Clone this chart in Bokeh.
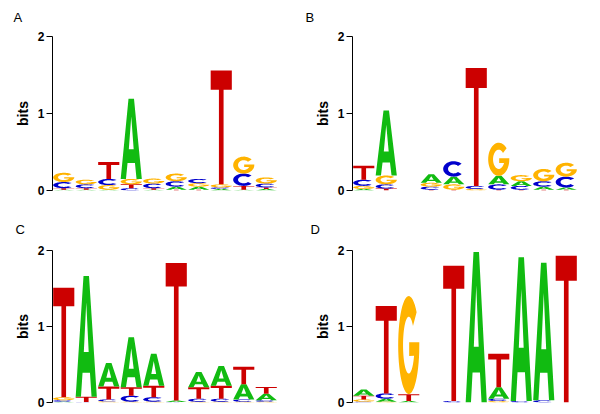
import numpy as np
from bokeh.plotting import figure
from bokeh.layouts import gridplot
from bokeh.models import ColumnDataSource, Range1d, FixedTicker
from bokeh.embed import file_html
from bokeh.resources import INLINE

# ---------------- data (information content in bits, positions 1..10) -------------
positions = [1, 2, 3, 4, 5, 6, 7, 8, 9, 10]
letters = ["A", "C", "G", "T"]

logoA_A = [0.01, 0.01, 0.01, 1.04, 0.01, 0.04, 0.04, 0.02, 0.01, 0.02]
logoA_C = [0.08, 0.05, 0.08, 0.03, 0.06, 0.07, 0.055, 0.02, 0.16, 0.05]
logoA_G = [0.12, 0.06, 0.06, 0.07, 0.065, 0.10, 0.045, 0.04, 0.22, 0.08]
logoA_T = [0.02, 0.02, 0.22, 0.05, 0.02, 0.01, 0.01, 1.48, 0.05, 0.02]

logoB_A = [0.02, 0.845, 0.0, 0.11, 0.10, 0.0, 0.11, 0.06, 0.04, 0.03]
logoB_C = [0.08, 0.055, 0.0, 0.04, 0.20, 0.04, 0.07, 0.05, 0.07, 0.14]
logoB_G = [0.04, 0.115, 0.0, 0.05, 0.07, 0.02, 0.43, 0.08, 0.16, 0.18]
logoB_T = [0.18, 0.025, 0.0, 0.01, 0.01, 1.53, 0.01, 0.01, 0.01, 0.01]

logoC_A = [0.01, 1.59, 0.31, 0.66, 0.42, 0.02, 0.20, 0.26, 0.20, 0.085]
logoC_C = [0.02, 0.005, 0.025, 0.08, 0.06, 0.005, 0.04, 0.04, 0.03, 0.02]
logoC_G = [0.04, 0.0, 0.015, 0.01, 0.01, 0.0, 0.01, 0.01, 0.01, 0.01]
logoC_T = [1.44, 0.07, 0.17, 0.11, 0.15, 1.81, 0.15, 0.17, 0.23, 0.09]

logoD_A = [0.08, 0.04, 0.02, 0.0, 0.0, 1.98, 0.15, 1.89, 1.81, 0.0]
logoD_C = [0.01, 0.07, 0.0, 0.0, 0.02, 0.0, 0.03, 0.02, 0.03, 0.0]
logoD_G = [0.03, 0.01, 1.29, 0.0, 0.0, 0.0, 0.02, 0.0, 0.0, 0.0]
logoD_T = [0.05, 1.15, 0.09, 0.0, 1.78, 0.0, 0.44, 0.0, 0.0, 1.93]

panel_names = ["A", "B", "C", "D"]
y_ticks = [0, 1, 2]
y_label = "bits"

colors = {"A": "#11BB11", "C": "#0000CC", "G": "#FFB300", "T": "#CC0000"}

# ---------------- letter outlines in a unit box ----------------
def arc(rx, ry, a0, a1, n=48):
    t = np.radians(np.linspace(a0, a1, n))
    return 0.5 + rx * np.cos(t), 0.5 + ry * np.sin(t)

def shape_T():
    x = [0, 1, 1, 0.61, 0.61, 0.39, 0.39, 0]
    y = [1, 1, 0.83, 0.83, 0, 0, 0.83, 0.83]
    return [(np.array(x, float), np.array(y, float))]

def shape_A():
    ox = [0, 0.37, 0.63, 1, 0.75, 0.675, 0.325, 0.25]
    oy = [0, 1, 1, 0, 0, 0.2, 0.2, 0]
    hx = [0.385, 0.5, 0.615]
    hy = [0.37, 0.78, 0.37]
    return [(np.array(ox, float), np.array(oy, float)),
            (np.array(hx, float), np.array(hy, float))]

def shape_C():
    xo, yo = arc(0.5, 0.5, 42, 318)
    xi, yi = arc(0.27, 0.29, 318, 42)
    return [(np.concatenate([xo, xi]), np.concatenate([yo, yi]))]

def shape_G():
    xo, yo = arc(0.5, 0.5, 42, 352)
    xi, yi = arc(0.27, 0.29, 338, 42)
    bx = [1.0, 0.52, 0.52]
    by = [0.53, 0.53, 0.39]
    return [(np.concatenate([xo, bx, xi]), np.concatenate([yo, by, yi]))]

shapes = {"A": shape_A(), "C": shape_C(), "G": shape_G(), "T": shape_T()}
letter_w = 0.94

def build_source(vals):
    xs, ys, cs = [], [], []
    for i, pos in enumerate(positions):
        col = [(vals[L][i], k, L) for k, L in enumerate(letters)]
        col.sort(key=lambda r: (r[0], r[1]))
        base = 0.0
        for h, _, L in col:
            if h <= 0:
                continue
            rx, ry = [], []
            for (ux, uy) in shapes[L]:
                rx.append(list(pos - letter_w / 2 + ux * letter_w))
                ry.append(list(base + uy * h))
            xs.append([rx])
            ys.append([ry])
            cs.append(colors[L])
            base += h
    return ColumnDataSource(dict(xs=xs, ys=ys, color=cs))

panel_vals = {
    "A": {"A": logoA_A, "C": logoA_C, "G": logoA_G, "T": logoA_T},
    "B": {"A": logoB_A, "C": logoB_C, "G": logoB_G, "T": logoB_T},
    "C": {"A": logoC_A, "C": logoC_C, "G": logoC_G, "T": logoC_T},
    "D": {"A": logoD_A, "C": logoD_C, "G": logoD_G, "T": logoD_T},
}

FONT = "Liberation Sans"

def make_panel(name, bt, bb, title_offset, title_standoff):
    p = figure(width=300, height=207, x_range=Range1d(0.5, 10.5), y_range=Range1d(0, 2),
               output_backend="svg", toolbar_location=None, x_axis_location=None,
               min_border=0, title=name)
    p.min_border_left = 52
    p.min_border_right = 23
    p.min_border_top = bt
    p.min_border_bottom = bb
    p.outline_line_color = None
    p.xgrid.visible = False
    p.ygrid.visible = False
    ax = p.yaxis[0]
    ax.ticker = FixedTicker(ticks=y_ticks)
    ax.minor_tick_line_color = None
    ax.major_tick_in = 0
    ax.major_tick_out = 6
    ax.major_label_standoff = 2
    ax.major_label_text_font = FONT
    ax.major_label_text_font_style = "bold"
    ax.major_label_text_font_size = "12px"
    ax.major_label_text_color = "black"
    ax.axis_line_color = "black"
    ax.major_tick_line_color = "black"
    ax.axis_label = y_label
    ax.axis_label_text_font = FONT
    ax.axis_label_text_font_style = "bold"
    ax.axis_label_text_font_size = "14px"
    ax.axis_label_text_color = "black"
    ax.axis_label_standoff = 4
    src = build_source(panel_vals[name])
    p.multi_polygons(xs="xs", ys="ys", source=src, fill_color="color", line_color=None)
    p.title.align = "left"
    p.title.vertical_align = "top"
    p.title.offset = title_offset
    p.title.text_font = FONT
    p.title.text_font_size = "13px"
    p.title.text_font_style = "normal"
    p.title.text_color = "black"
    p.title.standoff = title_standoff
    return p

pA = make_panel("A", 36, 17, -39, 19)
pB = make_panel("B", 36, 17, -47, 19)
pC = make_panel("C", 43, 12, -37, 23)
pD = make_panel("D", 43, 12, -42, 23)

p = gridplot([[pA, pB], [pC, pD]], toolbar_location=None)

open("out.html", "w").write(file_html(p, INLINE))
